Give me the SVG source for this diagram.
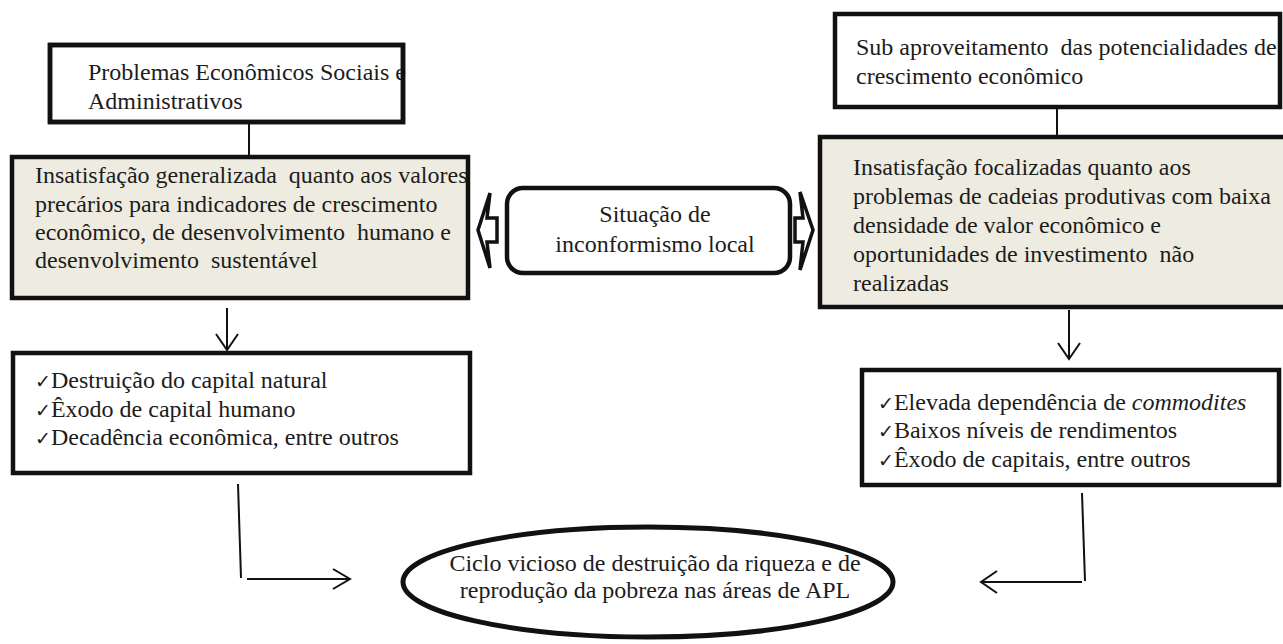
<svg xmlns="http://www.w3.org/2000/svg" width="1283" height="644" viewBox="0 0 1283 644">
<style>
  .t { font-family: "Liberation Serif", "Times New Roman", serif; font-size: 24px; fill: #1c1c1c; white-space: pre; }
  .ck { font-family: "DejaVu Sans", sans-serif; font-size: 19px; }
  .box { fill: #ffffff; stroke: #111; stroke-width: 4.5; }
  .beige { fill: #EEECE1; stroke: #111; stroke-width: 4.5; }
  .edge { fill: none; stroke: #111; stroke-width: 4.5; }
  .ln { fill: none; stroke: #111; stroke-width: 2; }
  .blk { fill: #fff; stroke: #111; stroke-width: 3.5; stroke-linejoin: miter; }
</style>
<rect width="1283" height="644" fill="#fff"/>

<g id="problemas">
  <rect class="box" x="50" y="45" width="353" height="77"/>
  <text class="t" x="88" y="80">Problemas Econômicos Sociais e</text>
  <text class="t" x="88" y="109">Administrativos</text>
  <rect class="edge" x="50" y="45" width="353" height="77"/>
</g>

<g id="insatisfacao-generalizada">
  <rect class="beige" x="12" y="157" width="456" height="141"/>
  <text class="t" x="35" y="183">Insatisfação generalizada  quanto aos valores</text>
  <text class="t" x="35" y="212">precários para indicadores de crescimento</text>
  <text class="t" x="35" y="240">econômico, de desenvolvimento  humano e</text>
  <text class="t" x="35" y="268">desenvolvimento  sustentável</text>
</g>

<g id="efeitos-esquerda">
  <rect class="box" x="13" y="353" width="457" height="120"/>
  <text class="t" x="35" y="388"><tspan class="ck">✓</tspan>Destruição do capital natural</text>
  <text class="t" x="35" y="417"><tspan class="ck">✓</tspan>Êxodo de capital humano</text>
  <text class="t" x="35" y="445"><tspan class="ck">✓</tspan>Decadência econômica, entre outros</text>
</g>

<g id="situacao">
  <rect class="box" x="507" y="188" width="283" height="85" rx="16" ry="16"/>
  <text class="t" x="655" y="222" text-anchor="middle">Situação de</text>
  <text class="t" x="655" y="252" text-anchor="middle">inconformismo local</text>
</g>

<g id="sub-aproveitamento">
  <rect class="box" x="835" y="14" width="445" height="93"/>
  <text class="t" x="856" y="55">Sub aproveitamento  das potencialidades de</text>
  <text class="t" x="856" y="84">crescimento econômico</text>
</g>

<g id="insatisfacao-focalizada">
  <rect class="beige" x="820" y="137" width="470" height="170"/>
  <text class="t" x="853" y="175">Insatisfação focalizadas quanto aos</text>
  <text class="t" x="853" y="204">problemas de cadeias produtivas com baixa</text>
  <text class="t" x="853" y="233">densidade de valor econômico e</text>
  <text class="t" x="853" y="262">oportunidades de investimento  não</text>
  <text class="t" x="853" y="291">realizadas</text>
</g>

<g id="efeitos-direita">
  <rect class="box" x="862" y="370" width="417" height="115"/>
  <text class="t" x="878" y="410"><tspan class="ck">✓</tspan>Elevada dependência de <tspan font-style="italic">commodites</tspan></text>
  <text class="t" x="878" y="438"><tspan class="ck">✓</tspan>Baixos níveis de rendimentos</text>
  <text class="t" x="878" y="467"><tspan class="ck">✓</tspan>Êxodo de capitais, entre outros</text>
</g>

<g id="ciclo">
  <ellipse cx="648" cy="582" rx="245" ry="55" fill="#fff" stroke="#111" stroke-width="5"/>
  <text class="t" x="655" y="571" text-anchor="middle">Ciclo vicioso de destruição da riqueza e de</text>
  <text class="t" x="655" y="598" text-anchor="middle">reprodução da pobreza nas áreas de APL</text>
</g>

<g id="connectors">
  <line class="ln" x1="249" y1="122" x2="249" y2="157"/>
  <line class="ln" x1="1057" y1="107" x2="1057" y2="137"/>
  <line class="ln" x1="227" y1="308" x2="227" y2="350"/>
  <polyline class="ln" points="216,334 227,350 238,334"/>
  <line class="ln" x1="1069" y1="310" x2="1069" y2="359"/>
  <polyline class="ln" points="1058,343 1069,359 1080,343"/>
  <line class="ln" x1="238" y1="484" x2="241" y2="578"/>
  <line class="ln" x1="247" y1="579" x2="350" y2="579"/>
  <polyline class="ln" points="333,569 350,579 333,589"/>
  <line class="ln" x1="1082" y1="493" x2="1085" y2="581"/>
  <line class="ln" x1="1082" y1="582" x2="981" y2="582"/>
  <polyline class="ln" points="997,571 981,582 997,593"/>
  <polygon class="blk" points="497,218 487,218 490,193 478,230 490,268 487,242 497,242"/>
  <polygon class="blk" points="795,218 803,218 800,192 813,230 800,270 803,242 795,242"/>
</g>
</svg>
